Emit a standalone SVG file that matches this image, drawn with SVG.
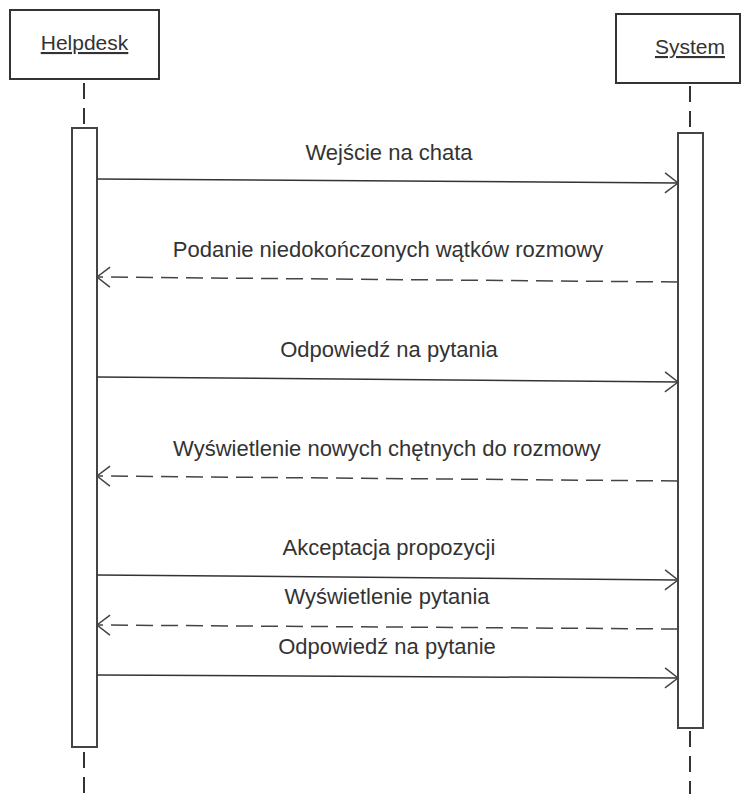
<svg xmlns="http://www.w3.org/2000/svg" width="752" height="794" viewBox="0 0 752 794">
  <style>
    .box { fill: #fff; stroke: #333; stroke-width: 2; }
    .act { fill: #fff; stroke: #444; stroke-width: 2; }
    .life { stroke: #333; stroke-width: 2; stroke-dasharray: 16 9; fill: none; }
    .msg { stroke: #333; stroke-width: 1.5; fill: none; }
    .ret { stroke: #444; stroke-width: 1.5; fill: none; stroke-dasharray: 17 8; }
    .title { font-family: "Liberation Sans", Arial, sans-serif; font-size: 21px; fill: #333; text-decoration: underline; text-anchor: middle; }
    .lbl { font-family: "Liberation Sans", Arial, sans-serif; font-size: 22px; fill: #333; text-anchor: middle; }
  </style>
  <defs>
    <marker id="open" markerWidth="16" markerHeight="22" refX="14" refY="11" orient="auto" markerUnits="userSpaceOnUse">
      <path d="M1,1 L14,11 L1,21" fill="none" stroke="#444" stroke-width="1.5"/>
    </marker>
  </defs>

  <rect width="752" height="794" fill="#fff"/>

  <!-- Helpdesk participant -->
  <g id="helpdesk">
    <line class="life" x1="84" y1="83" x2="84" y2="128"/>
    <line class="life" x1="84" y1="752" x2="84" y2="794"/>
    <rect class="box" x="10" y="10" width="149" height="69"/>
    <text class="title" x="84.5" y="50">Helpdesk</text>
    <rect class="act" x="72" y="128" width="25" height="619"/>
  </g>

  <!-- System participant -->
  <g id="system">
    <line class="life" x1="690" y1="86" x2="690" y2="133"/>
    <line class="life" x1="690" y1="731" x2="690" y2="794"/>
    <rect class="box" x="616" y="14" width="124" height="69"/>
    <text class="title" x="690" y="54">System</text>
    <rect class="act" x="678" y="133" width="25" height="595"/>
  </g>

  <!-- Messages -->
  <g id="connectors">
    <line class="msg" x1="97" y1="179" x2="678" y2="183" marker-end="url(#open)"/>
    <line class="ret" x1="678" y1="282" x2="97" y2="277" marker-end="url(#open)"/>
    <line class="msg" x1="97" y1="377" x2="678" y2="382" marker-end="url(#open)"/>
    <line class="ret" x1="678" y1="481" x2="97" y2="476" marker-end="url(#open)"/>
    <line class="msg" x1="97" y1="575" x2="678" y2="580" marker-end="url(#open)"/>
    <line class="ret" x1="678" y1="629" x2="97" y2="625" marker-end="url(#open)"/>
    <line class="msg" x1="97" y1="675" x2="678" y2="678" marker-end="url(#open)"/>
  </g>

  <g id="labels">
    <text class="lbl" x="389" y="160">Wejście na chata</text>
    <text class="lbl" x="388" y="257">Podanie niedokończonych wątków rozmowy</text>
    <text class="lbl" x="389" y="357">Odpowiedź na pytania</text>
    <text class="lbl" x="387" y="456">Wyświetlenie nowych chętnych do rozmowy</text>
    <text class="lbl" x="389" y="555">Akceptacja propozycji</text>
    <text class="lbl" x="387" y="604">Wyświetlenie pytania</text>
    <text class="lbl" x="387" y="654">Odpowiedź na pytanie</text>
  </g>
</svg>
